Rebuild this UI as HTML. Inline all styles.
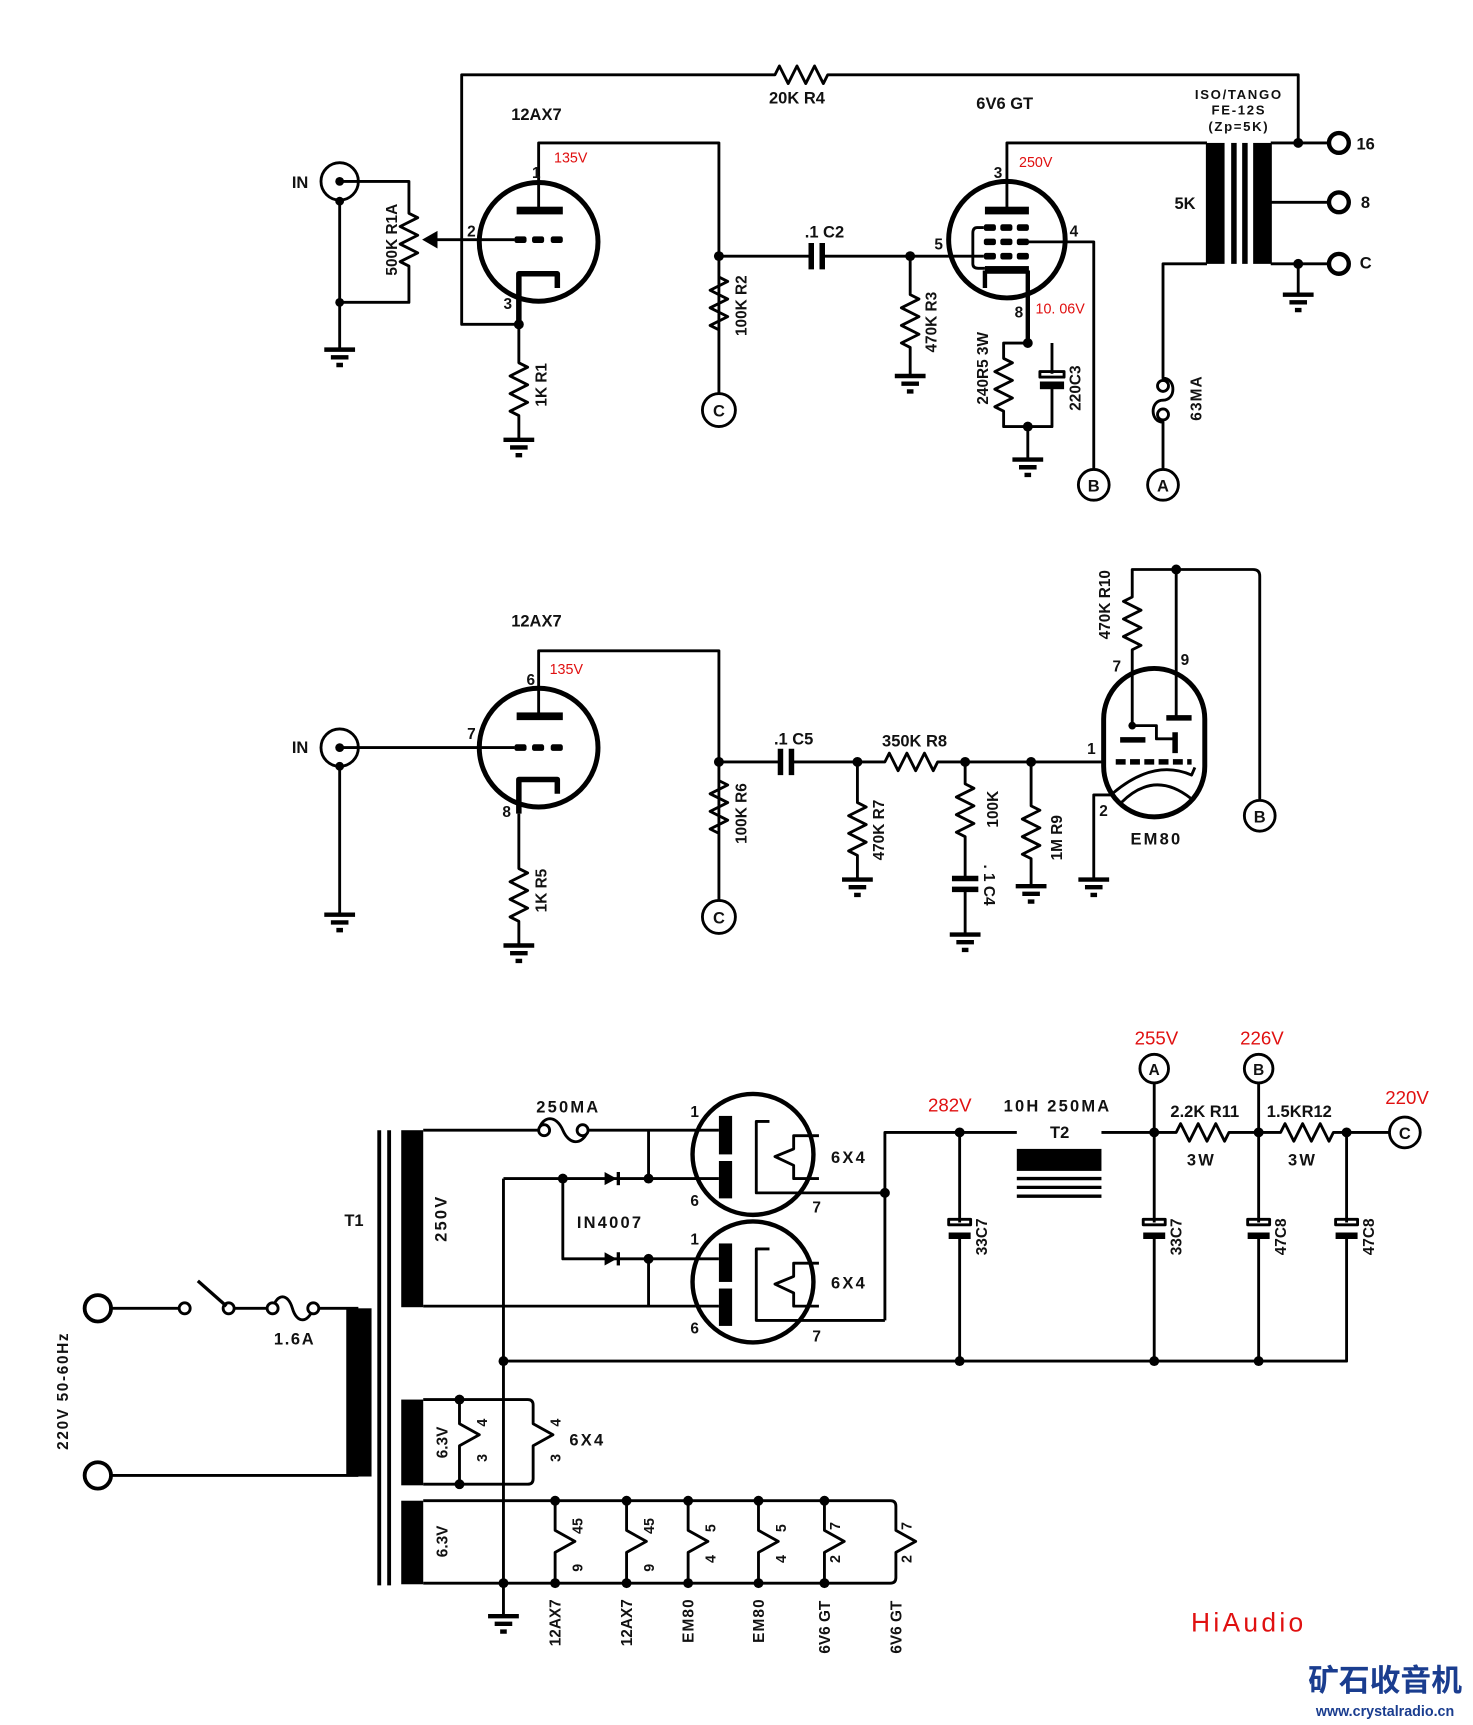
<!DOCTYPE html>
<html><head><meta charset="utf-8"><style>
html,body{margin:0;padding:0;background:#fff}
svg{display:block}
text{font-family:"Liberation Sans",Arial,sans-serif;font-weight:bold;fill:#111}
.r{fill:#e01010;font-weight:normal}
</style></head><body>
<svg width="1473" height="1725" viewBox="0 0 1340 1569" preserveAspectRatio="none" xmlns="http://www.w3.org/2000/svg">
<rect width="1340" height="1569" fill="#fff"/>
<g fill="none" stroke="#000" stroke-width="2.6" stroke-linejoin="round">
<!-- ===== TOP ===== -->
<path d="M472 295 H420 V68 H705 l4 -8 l8 16 l8 -16 l8 16 l8 -16 l8 16 l4 -8 H1181 V130"/>
<circle cx="309" cy="165" r="17"/>
<path d="M309 165 H372 V194 l8 4 l-16 8 l16 8 l-16 8 l16 8 l-16 8 l8 4 V275 H309"/>
<path d="M309 182 V318"/>
<path d="M295 318 h28 M301 325 h16 M306 332 h6" stroke-width="4"/>
<path d="M398 218 H468"/>
<circle cx="490" cy="220" r="54" stroke-width="4.5"/>
<path d="M490 190 V130 H654 V358"/>
<path d="M472 295 V249 H507 V262" stroke-width="5"/>
<path d="M472 295 V330 l8 4 l-16 8 l16 8 l-16 8 l16 8 l-16 8 l8 4 V400"/>
<path d="M458 400 h28 M464 407 h16 M469 414 h6" stroke-width="4"/>
<path d="M654 252 l8 4 l-16 8 l16 8 l-16 8 l16 8 l-16 8 l8 4"/>
<circle cx="654" cy="373" r="15"/>
<path d="M654 233 H737 M749 233 H828 V268 l8 4 l-16 8 l16 8 l-16 8 l16 8 l-16 8 l8 4 V342"/>
<path d="M738 221 V245 M748 221 V245" stroke-width="5"/>
<path d="M814 342 h28 M820 349 h16 M825 356 h6" stroke-width="4"/>
<path d="M828 233 H895"/>
<circle cx="916" cy="218" r="53" stroke-width="4.5"/>
<path d="M916 190 V130 H1098"/>
<path d="M895 207 H889 Q885 207 885 212 V240 Q885 244 890 244 H896"/>
<path d="M896 246 V262 M935 246 V312" stroke-width="4"/>
<path d="M930 220 H995 V426"/>
<circle cx="995" cy="441" r="14"/>
<path d="M935 312 H913 V326 l8 4 l-16 8 l16 8 l-16 8 l16 8 l-16 8 l8 4 V388 H957 V352 M957 312 V340 M935 388 V418"/>
<path d="M921 418 h28 M927 425 h16 M932 432 h6" stroke-width="4"/>
<rect x="946" y="338" width="22" height="5"/>
<path d="M1098 240 H1058 V344 C1070 344 1070 364 1058 364 C1046 364 1046 384 1058 384 V426"/>
<circle cx="1058" cy="351" r="5" fill="#fff"/><circle cx="1058" cy="377" r="5" fill="#fff"/>
<circle cx="1058" cy="441" r="14"/>
<path d="M1156 130 H1209 M1156 184 H1209 M1156 240 H1209 M1181 240 V268"/>
<path d="M1167 268 h28 M1173 275 h16 M1178 282 h6" stroke-width="4"/>
<circle cx="1218" cy="130" r="9" stroke-width="4"/><circle cx="1218" cy="184" r="9" stroke-width="4"/><circle cx="1218" cy="240" r="9" stroke-width="4"/>
<!-- ===== MIDDLE ===== -->
<circle cx="309" cy="680" r="17"/>
<path d="M309 680 H468 M309 697 V832"/>
<path d="M295 832 h28 M301 839 h16 M306 846 h6" stroke-width="4"/>
<circle cx="490" cy="680" r="54" stroke-width="4.5"/>
<path d="M490 651 V592 H654 V819"/>
<path d="M472 740 V709 H507 V722" stroke-width="5"/>
<path d="M472 740 V790 l8 4 l-16 8 l16 8 l-16 8 l16 8 l-16 8 l8 4 V860"/>
<path d="M458 860 h28 M464 867 h16 M469 874 h6" stroke-width="4"/>
<path d="M654 710 l8 4 l-16 8 l16 8 l-16 8 l16 8 l-16 8 l8 4"/>
<circle cx="654" cy="834" r="15"/>
<path d="M654 693 H709 M721 693 H805 l4 -8 l8 16 l8 -16 l8 16 l8 -16 l8 16 l4 -8 H1005"/>
<path d="M710 681 V705 M720 681 V705" stroke-width="5"/>
<path d="M780 693 V730 l8 4 l-16 8 l16 8 l-16 8 l16 8 l-16 8 l8 4 V800"/>
<path d="M766 800 h28 M772 807 h16 M777 814 h6" stroke-width="4"/>
<path d="M878 693 V713 l8 4 l-16 8 l16 8 l-16 8 l16 8 l-16 8 l8 4 V799 M878 809 V850"/>
<path d="M866 799 h24 M866 809 h24" stroke-width="5"/>
<path d="M864 850 h28 M870 857 h16 M875 864 h6" stroke-width="4"/>
<path d="M938 693 V733 l8 4 l-16 8 l16 8 l-16 8 l16 8 l-16 8 l8 4 V806"/>
<path d="M924 806 h28 M930 813 h16 M935 820 h6" stroke-width="4"/>
<rect x="1004" y="608" width="92" height="135" rx="46" stroke-width="4.5"/>
<path d="M1030 660 V591 l8 -4 l-16 -8 l16 -8 l-16 -8 l16 -8 l-16 -8 l8 -4 V518 H1140 Q1146 518 1146 524 V727"/>
<circle cx="1146" cy="742" r="14"/>
<path d="M1070 518 V653"/>
<path d="M1061 653 H1084 M1019 673 H1042 M1069 666 V685" stroke-width="5"/>
<path d="M1030 660 H1052 V672 H1069"/>
<path d="M1015 693 H1084" stroke-width="5" stroke-dasharray="9 4"/>
<path d="M1013 721 Q1050 690 1084 705 L1087 698"/>
<path d="M1020 730 Q1050 700 1083 726"/>
<path d="M1013 723 H995 V800"/>
<path d="M981 800 h28 M987 807 h16 M992 814 h6" stroke-width="4"/>
<!-- ===== BOTTOM ===== -->
<circle cx="89" cy="1190" r="12" stroke-width="3.5"/><circle cx="89" cy="1342" r="12" stroke-width="3.5"/>
<path d="M101 1190 H163 M213 1190 H243 M290 1190 H326 M101 1342 H326"/>
<circle cx="168" cy="1190" r="5"/><circle cx="208" cy="1190" r="5"/>
<path d="M180 1165 L206 1188" stroke-width="3"/>
<path d="M248 1190 C252 1176 262 1176 266 1190 C270 1204 280 1204 285 1190"/>
<circle cx="248" cy="1190" r="5" fill="#fff"/><circle cx="285" cy="1190" r="5" fill="#fff"/>
<path d="M345 1028 V1442 M354 1028 V1442" stroke-width="3.5"/>
<path d="M385 1028 H490 M535 1028 H654"/>
<path d="M490 1028 C494 1014 506 1014 512 1028 C518 1042 530 1042 535 1028"/>
<circle cx="495" cy="1028" r="5" fill="#fff"/><circle cx="530" cy="1028" r="5" fill="#fff"/>
<path d="M590 1028 V1072 M458 1072 H654 M512 1072 V1145 H654 M590 1145 V1188 M385 1188 H654"/>
<path d="M458 1072 V1470 M458 1238 H1225 V1122 M1225 1112 V1030"/>
<path d="M444 1470 h28 M450 1477 h16 M455 1484 h6" stroke-width="4"/>
<circle cx="685" cy="1050" r="55" stroke-width="4"/>
<circle cx="685" cy="1166" r="55" stroke-width="4"/>
<path d="M700 1020 H688 V1085 H805 M745 1033 H722 V1045 L705 1052 L722 1060 V1072 H745"/>
<path d="M700 1136 H688 V1201 H805 M745 1149 H722 V1161 L705 1168 L722 1176 V1188 H745"/>
<path d="M805 1201 V1030 H925 M1002 1030 H1070 l4 -8 l8 16 l8 -16 l8 16 l8 -16 l8 16 l4 -8 H1165 l4 -8 l8 16 l8 -16 l8 16 l8 -16 l8 16 l4 -8 H1264"/>
<path d="M925 1072 H1002 M925 1080 H1002 M925 1088 H1002" stroke-width="3"/>
<circle cx="1278" cy="1030" r="14"/>
<circle cx="1050" cy="972" r="13"/><circle cx="1145" cy="972" r="13"/>
<path d="M1050 985 V1112 M1050 1124 V1238 M1145 985 V1112 M1145 1124 V1238 M873 1030 V1112 M873 1124 V1238"/>
<rect x="863" y="1109" width="20" height="5"/><rect x="1040" y="1109" width="20" height="5"/><rect x="1135" y="1109" width="20" height="5"/><rect x="1215" y="1109" width="20" height="5"/>
<path d="M863 1124 h20 M1040 1124 h20 M1135 1124 h20 M1215 1124 h20" stroke-width="6"/>
<path d="M385 1273 H480 Q485 1273 485 1278 V1295 L503 1305 L485 1315 V1345 Q485 1350 480 1350 H385"/>
<path d="M418 1273 V1295 L436 1305 L418 1315 V1350"/>
<path d="M385 1365 H810 Q815 1365 815 1370 V1392 L833 1402 L815 1412 V1435 Q815 1440 810 1440 H385"/>
<path d="M505 1365 V1392 L523 1402 L505 1412 V1440 M570 1365 V1392 L588 1402 L570 1412 V1440 M626 1365 V1392 L644 1402 L626 1412 V1440 M690 1365 V1392 L708 1402 L690 1412 V1440 M750 1365 V1392 L768 1402 L750 1412 V1440"/>
</g>
<!-- filled shapes -->
<g fill="#000">
<circle cx="309" cy="165" r="4"/><circle cx="309" cy="183" r="4"/><circle cx="309" cy="275" r="4"/>
<polygon points="384,218 398,210 398,226"/>
<rect x="470" y="188" width="42" height="7"/>
<rect x="468" y="215" width="11" height="6" rx="2"/><rect x="484" y="215" width="11" height="6" rx="2"/><rect x="501" y="215" width="11" height="6" rx="2"/>
<circle cx="472" cy="295" r="4.5"/><circle cx="654" cy="233" r="4.5"/><circle cx="828" cy="233" r="4.5"/>
<rect x="896" y="188" width="40" height="7"/>
<rect x="895" y="204" width="11" height="6" rx="2"/><rect x="910" y="204" width="11" height="6" rx="2"/><rect x="925" y="204" width="11" height="6" rx="2"/>
<rect x="895" y="217" width="11" height="6" rx="2"/><rect x="910" y="217" width="11" height="6" rx="2"/><rect x="925" y="217" width="11" height="6" rx="2"/>
<rect x="895" y="230" width="11" height="6" rx="2"/><rect x="910" y="230" width="11" height="6" rx="2"/><rect x="925" y="230" width="11" height="6" rx="2"/>
<rect x="896" y="242" width="40" height="7"/>
<circle cx="935" cy="312" r="4.5"/><circle cx="935" cy="388" r="4.5"/>
<rect x="946" y="347" width="22" height="7"/>
<rect x="1097" y="130" width="17" height="110"/><rect x="1120" y="130" width="5" height="110"/><rect x="1130" y="130" width="5" height="110"/><rect x="1140" y="130" width="17" height="110"/>
<circle cx="1181" cy="130" r="4.5"/><circle cx="1181" cy="240" r="4.5"/>
<circle cx="309" cy="680" r="4"/><circle cx="309" cy="697" r="4"/>
<rect x="470" y="648" width="42" height="7"/>
<rect x="468" y="677" width="11" height="6" rx="2"/><rect x="484" y="677" width="11" height="6" rx="2"/><rect x="501" y="677" width="11" height="6" rx="2"/>
<circle cx="654" cy="693" r="4.5"/><circle cx="780" cy="693" r="4.5"/><circle cx="878" cy="693" r="4.5"/><circle cx="938" cy="693" r="4.5"/>
<circle cx="1070" cy="518" r="4.5"/><circle cx="1030" cy="660" r="3.5"/>
<rect x="315" y="1190" width="23" height="153"/>
<rect x="365" y="1028" width="20" height="161"/>
<rect x="365" y="1273" width="20" height="78"/>
<rect x="365" y="1365" width="20" height="76"/>
<rect x="654" y="1015" width="12" height="35"/><rect x="654" y="1056" width="12" height="34"/>
<rect x="654" y="1131" width="12" height="35"/><rect x="654" y="1172" width="12" height="34"/>
<polygon points="550,1066 550,1078 561,1072"/><rect x="561" y="1066" width="3" height="12"/>
<polygon points="550,1139 550,1151 561,1145"/><rect x="561" y="1139" width="3" height="12"/>
<circle cx="512" cy="1072" r="4.5"/><circle cx="590" cy="1072" r="4.5"/><circle cx="590" cy="1145" r="4.5"/>
<circle cx="805" cy="1085" r="4.5"/><circle cx="458" cy="1238" r="4.5"/>
<rect x="925" y="1045" width="77" height="20"/>
<circle cx="873" cy="1030" r="4.5"/><circle cx="1050" cy="1030" r="4.5"/><circle cx="1145" cy="1030" r="4.5"/><circle cx="1225" cy="1030" r="4.5"/>
<circle cx="873" cy="1238" r="4.5"/><circle cx="1050" cy="1238" r="4.5"/><circle cx="1145" cy="1238" r="4.5"/>
<circle cx="418" cy="1273" r="4.5"/><circle cx="418" cy="1350" r="4.5"/>
<circle cx="505" cy="1365" r="4.5"/><circle cx="570" cy="1365" r="4.5"/><circle cx="626" cy="1365" r="4.5"/><circle cx="690" cy="1365" r="4.5"/><circle cx="750" cy="1365" r="4.5"/>
<circle cx="458" cy="1440" r="4.5"/><circle cx="505" cy="1440" r="4.5"/><circle cx="570" cy="1440" r="4.5"/><circle cx="626" cy="1440" r="4.5"/><circle cx="690" cy="1440" r="4.5"/><circle cx="750" cy="1440" r="4.5"/>
</g>
<!-- text -->
<g font-size="15">
<text x="725" y="94" text-anchor="middle">20K R4</text>
<text x="488" y="109" text-anchor="middle">12AX7</text>
<text x="914" y="99" text-anchor="middle">6V6 GT</text>
<text x="273" y="171" text-anchor="middle">IN</text>
<text x="484" y="162" font-size="14">1</text><text x="425" y="215" font-size="14">2</text><text x="458" y="281" font-size="14">3</text>
<text x="504" y="148" class="r" font-size="13">135V</text>
<text x="361" y="218" text-anchor="middle" transform="rotate(-90 361 218)" font-size="14">500K R1A</text>
<text x="497" y="350" text-anchor="middle" transform="rotate(-90 497 350)" font-size="14">1K R1</text>
<text x="679" y="278" text-anchor="middle" transform="rotate(-90 679 278)" font-size="14">100K R2</text>
<text x="852" y="293" text-anchor="middle" transform="rotate(-90 852 293)" font-size="14">470K R3</text>
<text x="750" y="216" text-anchor="middle">.1 C2</text>
<text x="850" y="227" font-size="14">5</text><text x="973" y="215" font-size="14">4</text><text x="904" y="162" font-size="14">3</text><text x="923" y="289" font-size="14">8</text>
<text x="927" y="152" class="r" font-size="13">250V</text>
<text x="942" y="285" class="r" font-size="13">10. 06V</text>
<text x="899" y="335" text-anchor="middle" transform="rotate(-90 899 335)" font-size="14">240R5 3W</text>
<text x="983" y="353" text-anchor="middle" transform="rotate(-90 983 353)" font-size="14">220C3</text>
<text x="1093" y="362" text-anchor="middle" transform="rotate(-90 1093 362)" font-size="14" letter-spacing="1">63MA</text>
<text x="1078" y="190" text-anchor="middle" font-size="15">5K</text>
<text x="1127" y="90" text-anchor="middle" font-size="12" letter-spacing="1.5">ISO/TANGO</text>
<text x="1127" y="104" text-anchor="middle" font-size="12" letter-spacing="1.5" font-weight="normal">FE-12S</text>
<text x="1127" y="119" text-anchor="middle" font-size="12" letter-spacing="1.5" font-weight="normal">(Zp=5K)</text>
<text x="1234" y="136">16</text><text x="1238" y="189">8</text><text x="1237" y="244">C</text>
<text x="654" y="379" text-anchor="middle">C</text>
<text x="995" y="447" text-anchor="middle">B</text>
<text x="1058" y="447" text-anchor="middle">A</text>
<text x="488" y="570" text-anchor="middle">12AX7</text>
<text x="273" y="685" text-anchor="middle">IN</text>
<text x="479" y="623" font-size="14">6</text><text x="425" y="672" font-size="14">7</text><text x="457" y="743" font-size="14">8</text>
<text x="500" y="613" class="r" font-size="13">135V</text>
<text x="497" y="810" text-anchor="middle" transform="rotate(-90 497 810)" font-size="14">1K R5</text>
<text x="679" y="740" text-anchor="middle" transform="rotate(-90 679 740)" font-size="14">100K R6</text>
<text x="804" y="755" text-anchor="middle" transform="rotate(-90 804 755)" font-size="14">470K R7</text>
<text x="908" y="736" text-anchor="middle" transform="rotate(-90 908 736)" font-size="14">100K</text>
<text x="895" y="805" text-anchor="middle" transform="rotate(90 895 805)" font-size="14">. 1 C4</text>
<text x="966" y="762" text-anchor="middle" transform="rotate(-90 966 762)" font-size="14">1M R9</text>
<text x="1010" y="550" text-anchor="middle" transform="rotate(-90 1010 550)" font-size="14">470K R10</text>
<text x="722" y="677" text-anchor="middle">.1 C5</text>
<text x="832" y="679" text-anchor="middle">350K R8</text>
<text x="654" y="840" text-anchor="middle">C</text>
<text x="1146" y="748" text-anchor="middle">B</text>
<text x="1012" y="611" font-size="14">7</text><text x="1074" y="605" font-size="14">9</text><text x="989" y="686" font-size="14">1</text><text x="1000" y="742" font-size="14">2</text>
<text x="1052" y="768" text-anchor="middle" letter-spacing="2">EM80</text>
<text x="62" y="1265" text-anchor="middle" transform="rotate(-90 62 1265)" font-size="14" letter-spacing="1.5">220V 50-60Hz</text>
<text x="268" y="1223" text-anchor="middle" letter-spacing="1.5">1.6A</text>
<text x="322" y="1115" text-anchor="middle">T1</text>
<text x="406" y="1108" text-anchor="middle" transform="rotate(-90 406 1108)" letter-spacing="2">250V</text>
<text x="517" y="1012" text-anchor="middle" letter-spacing="2">250MA</text>
<text x="555" y="1117" text-anchor="middle" letter-spacing="2">IN4007</text>
<text x="628" y="1016" font-size="14">1</text><text x="628" y="1097" font-size="14">6</text><text x="739" y="1103" font-size="14">7</text>
<text x="628" y="1132" font-size="14">1</text><text x="628" y="1213" font-size="14">6</text><text x="739" y="1220" font-size="14">7</text>
<text x="756" y="1058" letter-spacing="2">6X4</text><text x="756" y="1172" letter-spacing="2">6X4</text>
<text x="864" y="1011" class="r" font-size="17" text-anchor="middle">282V</text>
<text x="962" y="1011" text-anchor="middle" letter-spacing="2">10H 250MA</text>
<text x="964" y="1035" text-anchor="middle">T2</text>
<text x="1052" y="950" class="r" font-size="17" text-anchor="middle">255V</text>
<text x="1148" y="950" class="r" font-size="17" text-anchor="middle">226V</text>
<text x="1280" y="1004" class="r" font-size="17" text-anchor="middle">220V</text>
<text x="1050" y="978" text-anchor="middle" font-size="14">A</text>
<text x="1145" y="978" text-anchor="middle" font-size="14">B</text>
<text x="1278" y="1036" text-anchor="middle">C</text>
<text x="1096" y="1016" text-anchor="middle">2.2K R11</text>
<text x="1182" y="1016" text-anchor="middle">1.5KR12</text>
<text x="1093" y="1060" text-anchor="middle" letter-spacing="2">3W</text>
<text x="1185" y="1060" text-anchor="middle" letter-spacing="2">3W</text>
<text x="898" y="1125" text-anchor="middle" transform="rotate(-90 898 1125)" font-size="14">33C7</text>
<text x="1075" y="1125" text-anchor="middle" transform="rotate(-90 1075 1125)" font-size="14">33C7</text>
<text x="1170" y="1125" text-anchor="middle" transform="rotate(-90 1170 1125)" font-size="14">47C8</text>
<text x="1250" y="1125" text-anchor="middle" transform="rotate(-90 1250 1125)" font-size="14">47C8</text>
<text x="407" y="1312" text-anchor="middle" transform="rotate(-90 407 1312)" font-size="14">6.3V</text>
<text x="407" y="1402" text-anchor="middle" transform="rotate(-90 407 1402)" font-size="14">6.3V</text>
<text x="443" y="1294" text-anchor="middle" transform="rotate(-90 443 1294)" font-size="13">4</text>
<text x="443" y="1326" text-anchor="middle" transform="rotate(-90 443 1326)" font-size="13">3</text>
<text x="510" y="1294" text-anchor="middle" transform="rotate(-90 510 1294)" font-size="13">4</text>
<text x="510" y="1326" text-anchor="middle" transform="rotate(-90 510 1326)" font-size="13">3</text>
<text x="518" y="1315" letter-spacing="2">6X4</text>
<text x="530" y="1388" text-anchor="middle" transform="rotate(-90 530 1388)" font-size="13">45</text>
<text x="530" y="1426" text-anchor="middle" transform="rotate(-90 530 1426)" font-size="13">9</text>
<text x="595" y="1388" text-anchor="middle" transform="rotate(-90 595 1388)" font-size="13">45</text>
<text x="595" y="1426" text-anchor="middle" transform="rotate(-90 595 1426)" font-size="13">9</text>
<text x="651" y="1390" text-anchor="middle" transform="rotate(-90 651 1390)" font-size="13">5</text>
<text x="651" y="1418" text-anchor="middle" transform="rotate(-90 651 1418)" font-size="13">4</text>
<text x="715" y="1390" text-anchor="middle" transform="rotate(-90 715 1390)" font-size="13">5</text>
<text x="715" y="1418" text-anchor="middle" transform="rotate(-90 715 1418)" font-size="13">4</text>
<text x="764" y="1388" text-anchor="middle" transform="rotate(-90 764 1388)" font-size="13">7</text>
<text x="764" y="1418" text-anchor="middle" transform="rotate(-90 764 1418)" font-size="13">2</text>
<text x="829" y="1388" text-anchor="middle" transform="rotate(-90 829 1388)" font-size="13">7</text>
<text x="829" y="1418" text-anchor="middle" transform="rotate(-90 829 1418)" font-size="13">2</text>
<text x="510" y="1476" text-anchor="middle" transform="rotate(-90 510 1476)" font-size="14">12AX7</text>
<text x="575" y="1476" text-anchor="middle" transform="rotate(-90 575 1476)" font-size="14">12AX7</text>
<text x="631" y="1474" text-anchor="middle" transform="rotate(-90 631 1474)" font-size="14" letter-spacing="1">EM80</text>
<text x="695" y="1474" text-anchor="middle" transform="rotate(-90 695 1474)" font-size="14" letter-spacing="1">EM80</text>
<text x="755" y="1480" text-anchor="middle" transform="rotate(-90 755 1480)" font-size="14">6V6 GT</text>
<text x="820" y="1480" text-anchor="middle" transform="rotate(-90 820 1480)" font-size="14">6V6 GT</text>
<text x="1136" y="1484" text-anchor="middle" class="r" font-size="24" letter-spacing="3">HiAudio</text>
<text x="1260" y="1538" text-anchor="middle" font-size="28" style="font-family:'Liberation Sans','Noto Sans CJK SC',sans-serif;fill:#1a3d8f;font-weight:bold">矿石收音机</text>
<text x="1260" y="1561" text-anchor="middle" font-size="13" style="fill:#1a3d8f">www.crystalradio.cn</text>
</g>
</svg>
</body></html>
